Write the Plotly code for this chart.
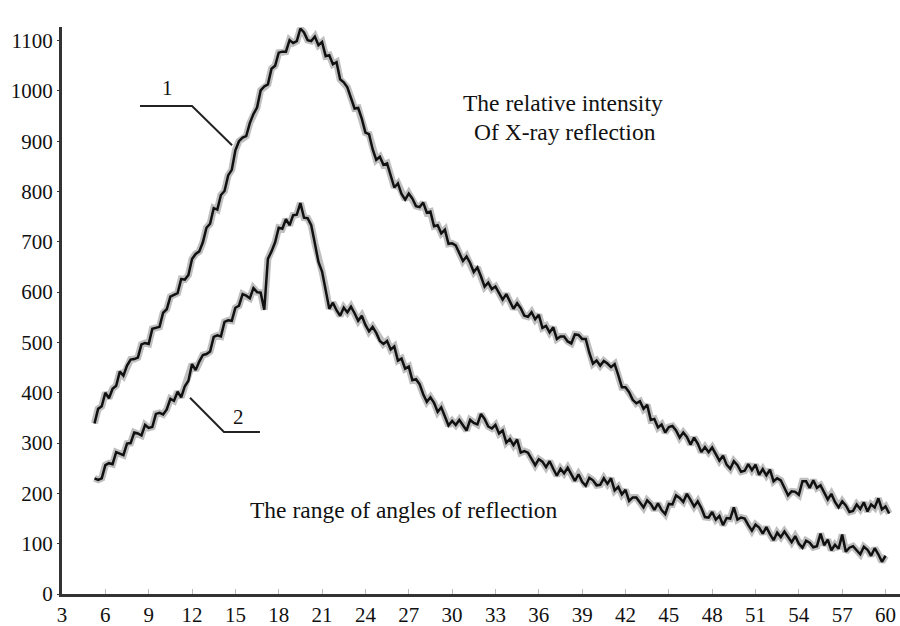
import numpy as np
import plotly.graph_objects as go

# Scan grid (degrees), 0.25 step
angle_start, angle_step, n_points = 5.25, 0.25, 221
angles = [round(angle_start + i * angle_step, 2) for i in range(n_points)]

# Curve 1 - relative intensity
curve1 = [
    339, 368, 373, 400, 389, 408, 414, 442, 434, 454,
    466, 467, 470, 496, 499, 497, 527, 529, 531, 559,
    566, 591, 595, 598, 626, 625, 634, 666, 676, 681,
    699, 728, 736, 767, 764, 793, 801, 832, 843, 882,
    900, 907, 910, 936, 954, 967, 1001, 1009, 1013, 1044,
    1050, 1076, 1078, 1078, 1101, 1095, 1099, 1124, 1116, 1101,
    1099, 1108, 1091, 1097, 1069, 1071, 1053, 1057, 1023, 1017,
    1007, 987, 965, 966, 945, 917, 914, 884, 863, 869,
    853, 856, 833, 808, 816, 795, 784, 796, 786, 771,
    769, 778, 758, 760, 731, 733, 717, 724, 696, 697,
    693, 677, 662, 671, 658, 640, 649, 631, 611, 619,
    606, 611, 599, 585, 596, 580, 567, 578, 568, 553,
    551, 560, 546, 555, 529, 533, 520, 530, 507, 512,
    512, 502, 498, 516, 515, 507, 507, 479, 458, 464,
    454, 463, 458, 451, 457, 435, 411, 411, 401, 386,
    379, 383, 368, 376, 346, 348, 331, 337, 321, 332,
    334, 325, 311, 321, 312, 297, 311, 299, 282, 292,
    282, 291, 279, 265, 275, 257, 249, 264, 256, 243,
    245, 258, 246, 257, 237, 248, 236, 247, 224, 230,
    226, 212, 196, 204, 203, 197, 224, 224, 211, 226,
    211, 216, 203, 188, 199, 183, 172, 184, 176, 163,
    165, 178, 169, 182, 164, 178, 172, 190, 168, 174,
    160,
]

# Curve 2 - relative intensity
curve2 = [
    230, 227, 230, 256, 260, 258, 282, 279, 276, 299,
    300, 321, 319, 315, 336, 330, 332, 358, 360, 357,
    367, 388, 384, 402, 391, 413, 424, 457, 445, 462,
    475, 477, 482, 511, 514, 512, 541, 544, 543, 569,
    573, 596, 593, 588, 608, 600, 599, 565, 666, 681,
    699, 728, 726, 745, 733, 753, 754, 777, 748, 747,
    733, 697, 660, 641, 607, 567, 579, 564, 553, 569,
    560, 571, 558, 543, 553, 535, 522, 531, 519, 503,
    497, 503, 486, 492, 464, 468, 448, 452, 425, 427,
    417, 397, 382, 391, 380, 362, 371, 354, 335, 344,
    336, 346, 336, 325, 346, 340, 337, 358, 348, 333,
    329, 336, 319, 325, 301, 308, 296, 307, 281, 284,
    281, 267, 256, 268, 263, 252, 264, 249, 235, 249,
    240, 251, 239, 225, 238, 223, 215, 231, 226, 216,
    217, 230, 219, 230, 206, 213, 198, 207, 185, 192,
    192, 182, 172, 186, 179, 167, 180, 167, 159, 179,
    178, 196, 191, 183, 199, 187, 174, 184, 171, 153,
    152, 163, 148, 155, 137, 151, 150, 172, 148, 152,
    150, 137, 126, 138, 132, 120, 133, 119, 107, 122,
    113, 124, 114, 103, 115, 100, 92, 106, 102, 93,
    95, 120, 97, 108, 87, 98, 90, 118, 84, 92,
    95, 87, 79, 94, 88, 76, 91, 79, 64, 76,
]

x_ticks = list(range(3, 61, 3))
y_ticks = list(range(0, 1101, 100))

FONT = "Liberation Serif, Times New Roman, serif"

fig = go.Figure()
for ys in (curve1, curve2):
    xs = angles[:len(ys)]
    fig.add_trace(go.Scatter(x=xs, y=ys, mode="lines",
                             line=dict(color="rgba(0,0,0,0.25)", width=7),
                             hoverinfo="skip", showlegend=False))
    fig.add_trace(go.Scatter(x=xs, y=ys, mode="lines",
                             line=dict(color="#111111", width=2.5),
                             showlegend=False))

# leader lines for labels 1 and 2
fig.add_trace(go.Scatter(x=[8.4, 12.0, 14.77], y=[970, 970, 892], mode="lines",
                         line=dict(color="#222", width=2), showlegend=False, hoverinfo="skip"))
fig.add_trace(go.Scatter(x=[11.86, 14.21, 16.7], y=[390, 322, 322], mode="lines",
                         line=dict(color="#222", width=2), showlegend=False, hoverinfo="skip"))

annots = [
    dict(x=10.27, y=1005, text="1", size=21),
    dict(x=15.25, y=352, text="2", size=21),
    dict(x=37.67, y=976, text="The relative intensity", size=23.5),
    dict(x=37.81, y=918, text="Of X-ray reflection", size=23.5),
    dict(x=26.67, y=167, text="The range of angles of reflection", size=23.5),
]
for a in annots:
    fig.add_annotation(x=a["x"], y=a["y"], text=a["text"], showarrow=False,
                       xref="x", yref="y", xanchor="center", yanchor="middle",
                       font=dict(family=FONT, size=a["size"], color="#111"))

fig.update_layout(
    width=900, height=626,
    margin=dict(l=62, r=0, t=27, b=32),
    paper_bgcolor="white", plot_bgcolor="white",
    font=dict(family=FONT, size=21, color="#111"),
    showlegend=False,
    xaxis=dict(range=[3, 61], tickvals=x_ticks, showgrid=False, zeroline=False,
               showline=True, linecolor="#333", linewidth=3,
               ticks="inside", ticklen=5, tickcolor="#bbb", tickwidth=1,
               tickfont=dict(family=FONT, size=21, color="#111")),
    yaxis=dict(range=[0, 1127], tickvals=y_ticks, showgrid=False, zeroline=False,
               showline=True, linecolor="#333", linewidth=3,
               ticks="outside", ticklen=2, tickcolor="#333",
               tickfont=dict(family=FONT, size=21, color="#111")),
)

fig.write_html("out.html")
